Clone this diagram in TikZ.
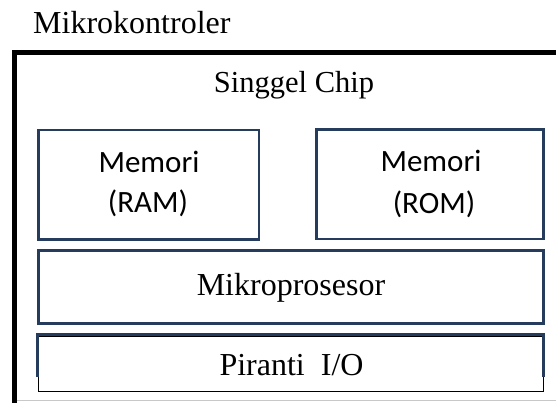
\documentclass[tikz,border=0pt]{standalone}
\usepackage{fontspec}
\setmainfont{Liberation Serif}
\newfontfamily\calibri{Carlito}
\definecolor{boxblue}{RGB}{38,60,92}
\definecolor{framegray}{RGB}{200,200,200}
\tikzset{
  block/.style={draw=boxblue, line width=2.6pt, inner sep=0pt},
  serif/.style={inner sep=0pt, font=\fontsize{32}{38}\selectfont},
  sanslabel/.style={inner sep=0pt, font=\calibri\fontsize{31}{37}\selectfont},
}
\begin{document}
\begin{tikzpicture}[x=1pt,y=-1pt]
  \useasboundingbox (0,0) rectangle (556,403);

  % outer chip frame: heavy top and left edges, faint bottom rule
  \coordinate (frameTL) at (14.5,52.5);
  \coordinate (frameTR) at (556,52.5);
  \coordinate (frameBL) at (14.5,403);
  \coordinate (rule0) at (17,400.5);
  \coordinate (rule1) at (556,400.5);
  \draw[line width=5pt] (frameTR) -- (frameTL) -- (frameBL);
  \draw[framegray, line width=1.5pt] (rule0) -- (rule1);

  \node[serif, anchor=base west] (title) at (33,34) {Mikrokontroler};
  \node[serif, anchor=base, font=\fontsize{30.5}{36}\selectfont] (chip) at (294,93) {Singgel Chip};

  % memory blocks
  \node[block, minimum width=220.5pt, minimum height=109.5pt] (ram) at (148.75,184.75) {};
  \node[block, minimum width=227pt, minimum height=109.5pt] (rom) at (430,184.25) {};
  \node[sanslabel, anchor=base] (ramA) at (149,173) {Memori};
  \node[sanslabel, anchor=base] (ramB) at (148,212) {(RAM)};
  \node[sanslabel, anchor=base] (romA) at (431,172) {Memori};
  \node[sanslabel, anchor=base] (romB) at (434,214) {(ROM)};

  % processor block
  \node[block, minimum width=505pt, minimum height=72.5pt] (cpu) at (291,287) {};
  \node[serif, anchor=base] (cpuT) at (291,295) {Mikroprosesor};

  % I/O block: thin inner box under an open blue frame
  \coordinate (ioA) at (38.5,336);
  \coordinate (ioB) at (543,391);
  \draw[line width=1pt] (ioA) rectangle (ioB);
  \coordinate (io1) at (37.5,377);
  \coordinate (io2) at (37.5,334.5);
  \coordinate (io3) at (543.5,334.5);
  \coordinate (io4) at (543.5,377);
  \draw[boxblue, line width=2.6pt] (io1) -- (io2) -- (io3) -- (io4);
  \node[serif, anchor=base] (ioT) at (291.5,375) {Piranti\ \ I/O};
\end{tikzpicture}
\end{document}
